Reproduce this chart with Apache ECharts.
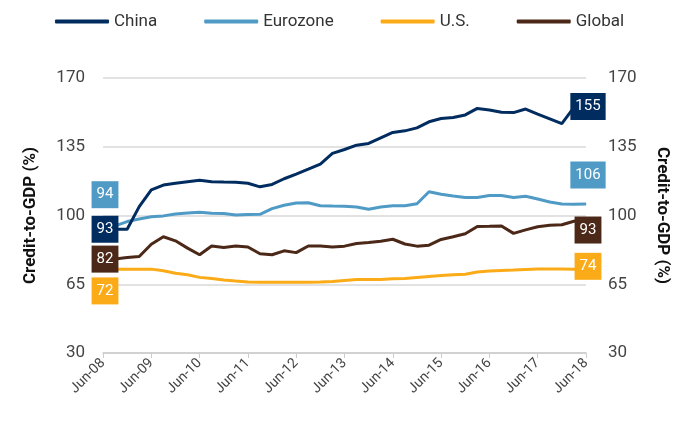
<!DOCTYPE html>
<html>
<head>
<meta charset="utf-8">
<script src="https://cdn.jsdelivr.net/npm/echarts@6/dist/echarts.min.js"></script>
<style>
  html, body { margin: 0; padding: 0; background: #fff; }
  #chart { width: 688px; height: 422px; }
</style>
</head>
<body>
<div id="chart"></div>
<script>
// quarterly, Jun-08 .. Jun-18
const quarters = [
  'Jun-08', 'Sep-08', 'Dec-08', 'Mar-09',
  'Jun-09', 'Sep-09', 'Dec-09', 'Mar-10',
  'Jun-10', 'Sep-10', 'Dec-10', 'Mar-11',
  'Jun-11', 'Sep-11', 'Dec-11', 'Mar-12',
  'Jun-12', 'Sep-12', 'Dec-12', 'Mar-13',
  'Jun-13', 'Sep-13', 'Dec-13', 'Mar-14',
  'Jun-14', 'Sep-14', 'Dec-14', 'Mar-15',
  'Jun-15', 'Sep-15', 'Dec-15', 'Mar-16',
  'Jun-16', 'Sep-16', 'Dec-16', 'Mar-17',
  'Jun-17', 'Sep-17', 'Dec-17', 'Mar-18',
  'Jun-18'
];

const china = [
  93, 93, 93, 104.5, 113, 115.5, 116.4, 117.2, 118, 117.2,
  117, 116.9, 116.4, 114.6, 115.8, 118.7, 121.1, 123.6, 126.2, 131.6,
  133.6, 135.8, 136.7, 139.5, 142.3, 143.1, 144.6, 147.7, 149.4, 149.9,
  151.2, 154.5, 153.7, 152.6, 152.4, 154.2, 151.6, 149.2, 146.8, 155,
  155.5
];
const eurozone = [
  94.3, 94.7, 96.9, 98.2, 99.4, 99.8, 100.8, 101.3, 101.6, 101.1,
  101, 100.2, 100.5, 100.6, 103.5, 105.2, 106.4, 106.5, 105, 104.8,
  104.7, 104.3, 103.2, 104.3, 105, 105, 106, 112.1, 110.8, 109.9,
  109.2, 109.2, 110.2, 110.2, 109.2, 109.8, 108.4, 106.9, 105.9, 105.7,
  105.9
];
const us = [
  72.3, 72.7, 72.7, 72.7, 72.7, 71.9, 70.6, 69.8, 68.5, 67.9,
  67.2, 66.6, 66.1, 66, 66, 66, 66, 66, 66.1, 66.4,
  66.9, 67.4, 67.4, 67.4, 67.8, 67.9, 68.4, 68.9, 69.4, 69.8,
  70.1, 71.2, 71.7, 72, 72.2, 72.5, 72.8, 72.8, 72.8, 72.6,
  72.6
];
const global = [
  77.8, 77.8, 78.6, 79.1, 85.4, 89.2, 87.1, 83.4, 80, 84.5,
  83.7, 84.5, 84, 80.5, 80, 82, 81.1, 84.5, 84.5, 84,
  84.4, 85.7, 86.2, 86.9, 87.9, 85.5, 84.4, 84.9, 87.8, 89.2,
  90.7, 94.4, 94.5, 94.7, 90.9, 92.7, 94.3, 95, 95.3, 97.1,
  97.7
];

// value boxes at the start and end of each line
const startLabels = { China: '93', Eurozone: '94', 'U.S.': '72', Global: '82' };
const endLabels = { China: '155', Eurozone: '106', 'U.S.': '74', Global: '93' };

const yTicks = { min: 30, max: 170, interval: 35 };

const chart = echarts.init(document.getElementById('chart'));

const font = 'Roboto, "Noto Sans", sans-serif';

function box(text, color) {
  return {
    show: true,
    position: 'inside',
    formatter: text,
    color: '#fff',
    backgroundColor: color,
    padding: [5, 5, 5, 5],
    lineHeight: 17,
    fontSize: 15,
    fontFamily: font
  };
}

function makeSeries(name, values, color, dyStart, dyEnd) {
  const last = values.length - 1;
  const data = values.map((v, i) => {
    if (i === 0) return { value: v, label: box(startLabels[name], color) };
    if (i === last) return { value: v, label: box(endLabels[name], color) };
    return v;
  });
  return {
    name: name,
    type: 'line',
    data: data,
    symbol: 'circle',
    symbolSize: 1,
    showSymbol: true,
    showAllSymbol: true,
    smooth: false,
    color: color,
    itemStyle: { color: color },
    lineStyle: { color: color, width: 3 },
    labelLayout: function (params) {
      return {
        dx: 2,
        dy: params.dataIndex === 0 ? dyStart : dyEnd,
        hideOverlap: false
      };
    },
    z: 3
  };
}

chart.setOption({
  animation: false,
  textStyle: { fontFamily: font },
  legend: {
    left: 50,
    top: 8,
    itemWidth: 54,
    itemHeight: 4,
    itemGap: 47,
    icon: 'roundRect',
    textStyle: { fontSize: 17, color: '#333', fontFamily: font },
    data: ['China', 'Eurozone', 'U.S.', 'Global']
  },
  grid: { left: 103, right: 102, top: 78, bottom: 69, containLabel: false },
  xAxis: {
    type: 'category',
    data: quarters,
    boundaryGap: false,
    axisLine: { lineStyle: { color: '#cccccc', width: 1.5 } },
    axisTick: { show: true, interval: 3, length: 5, lineStyle: { color: '#cccccc' } },
    axisLabel: {
      interval: 3,
      rotate: 45,
      fontSize: 14,
      color: '#444',
      margin: 8,
      fontFamily: font
    },
    splitLine: { show: false }
  },
  yAxis: [
    {
      type: 'value',
      min: yTicks.min,
      max: yTicks.max,
      interval: yTicks.interval,
      name: 'Credit-to-GDP (%)',
      nameLocation: 'middle',
      nameGap: 64,
      nameTextStyle: { fontSize: 17, fontWeight: 'bold', color: '#111', fontFamily: font },
      axisLine: { show: false },
      axisTick: { show: false },
      axisLabel: { fontSize: 17, color: '#444', margin: 18, fontFamily: font },
      splitLine: { lineStyle: { color: '#d9d9d9', width: 1.5 } }
    },
    {
      type: 'value',
      min: yTicks.min,
      max: yTicks.max,
      interval: yTicks.interval,
      name: 'Credit-to-GDP (%)',
      nameLocation: 'middle',
      nameGap: 68,
      nameRotate: -90,
      nameTextStyle: { fontSize: 17, fontWeight: 'bold', color: '#111', fontFamily: font },
      axisLine: { show: false },
      axisTick: { show: false },
      axisLabel: { fontSize: 17, color: '#444', margin: 22, fontFamily: font },
      splitLine: { show: false }
    }
  ],
  series: [
    makeSeries('U.S.', us, '#fbab18', 21, -3),
    makeSeries('Global', global, '#4b2817', 0, 10),
    makeSeries('Eurozone', eurozone, '#4f9bc6', -32, -29),
    makeSeries('China', china, '#002c5f', 0, 0)
  ]
});
</script>
</body>
</html>
